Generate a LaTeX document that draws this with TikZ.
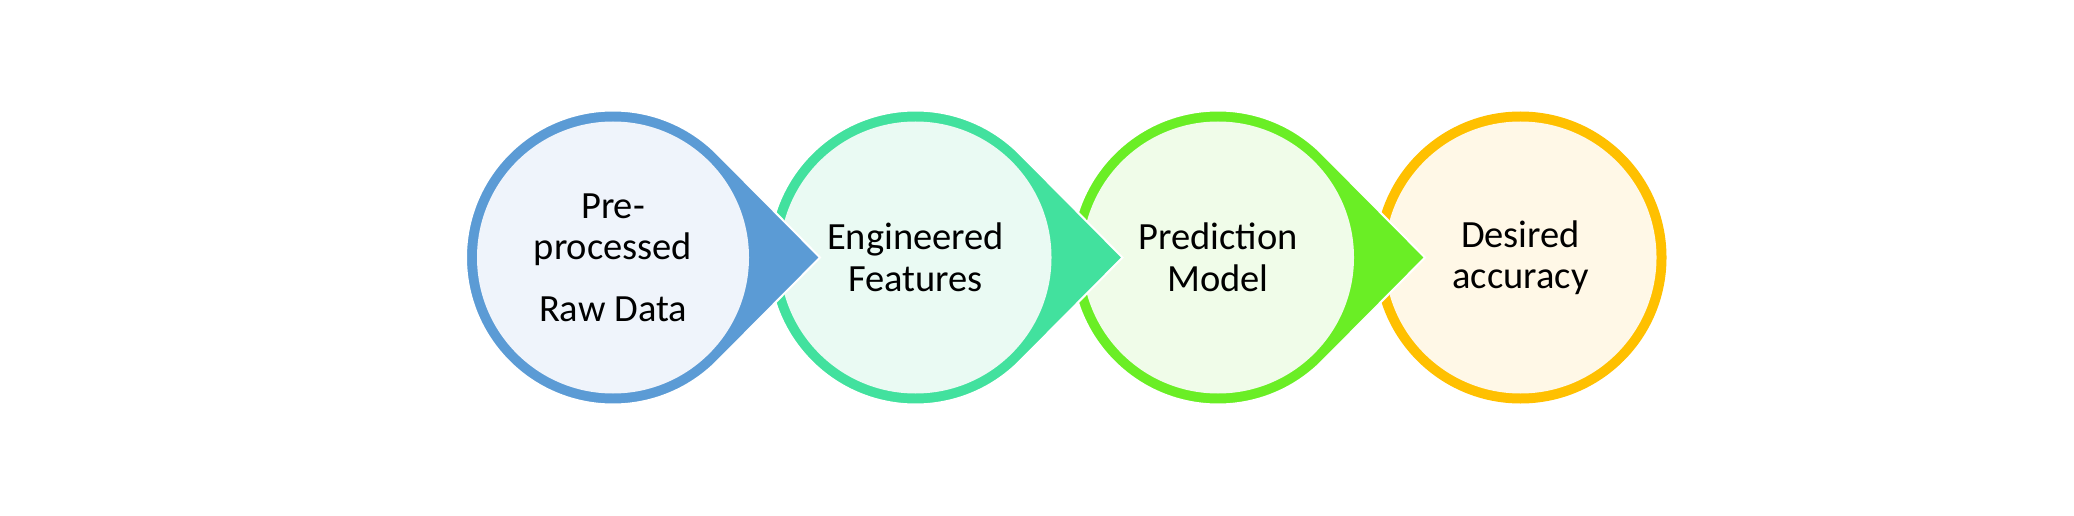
\documentclass[tikz,border=0pt]{standalone}
\usepackage{fontspec}
\setmainfont{Carlito}
\usetikzlibrary{calc}
\definecolor{ringA}{RGB}{91,155,213}
\definecolor{fillA}{RGB}{239,244,251}
\definecolor{ringB}{RGB}{66,225,158}
\definecolor{fillB}{RGB}{234,250,243}
\definecolor{ringC}{RGB}{106,238,37}
\definecolor{fillC}{RGB}{240,252,233}
\definecolor{ringD}{RGB}{255,192,0}
\definecolor{fillD}{RGB}{255,248,231}
\begin{document}
\begin{tikzpicture}[x=1pt,y=1pt,
  drop/.style={line width=2pt, draw=white},
  disc/.style={circle, minimum size=272pt, inner sep=0pt, align=center,
    font=\fontsize{38.5}{41.5}\selectfont, text=black}]
\useasboundingbox (0,0) rectangle (2074,515);
\fill[white] (0,0) rectangle (2074,515);
\coordinate (c1) at (613,257.5);
\coordinate (c2) at (915.5,257.5);
\coordinate (c3) at (1218,257.5);
\coordinate (c4) at (1520.5,257.5);
% circle 4
\fill[ringD] (c4) circle (146);
\node[disc, fill=fillD] (n4) at (c4) {Desired\\accuracy};
% teardrop 3
\coordinate (t3) at ($(c3)+(207,0)$);
\filldraw[drop, fill=ringC] ($(c3)+(45:147)$) arc[start angle=45, end angle=315, radius=147] -- (t3) -- cycle;
\node[disc, fill=fillC] (n3) at (c3) {Prediction\\Model};
% teardrop 2
\coordinate (t2) at ($(c2)+(207,0)$);
\filldraw[drop, fill=ringB] ($(c2)+(45:147)$) arc[start angle=45, end angle=315, radius=147] -- (t2) -- cycle;
\node[disc, fill=fillB] (n2) at (c2) {Engineered\\Features};
% teardrop 1
\coordinate (t1) at ($(c1)+(207,0)$);
\filldraw[drop, fill=ringA] ($(c1)+(45:147)$) arc[start angle=45, end angle=315, radius=147] -- (t1) -- cycle;
\node[disc, fill=fillA] (n1) at (c1) {Pre-\\processed\\[20pt]Raw Data};
\end{tikzpicture}
\end{document}
